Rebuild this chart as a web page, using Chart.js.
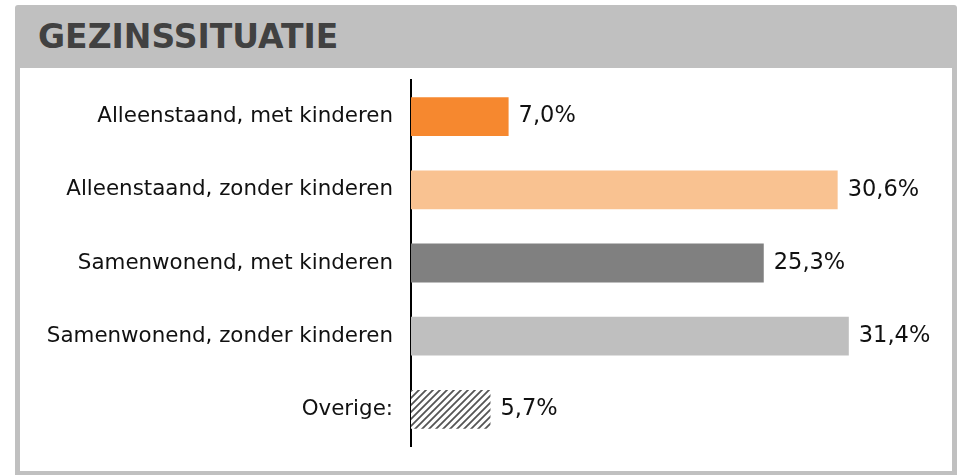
<!DOCTYPE html>
<html>
<head>
<meta charset="utf-8">
<script src="https://cdn.jsdelivr.net/npm/chart.js@4.4.1/dist/chart.umd.min.js"></script>
<style>
  body { margin: 0; background: #fff; width: 961px; height: 475px; overflow: hidden; }
  .card {
    position: absolute; left: 15px; top: 5px; width: 942px; height: 470px;
    background: #c0c0c0; border-radius: 3px 3px 0 0;
  }
  .card h1 {
    margin: 0; position: absolute; left: 23px; top: 0; height: 63px; line-height: 63px;
    font-family: 'DejaVu Sans', Verdana, sans-serif; font-weight: bold; font-size: 33px;
    color: #414141;
  }
  .content {
    position: absolute; left: 5px; top: 63px; width: 932px; height: 403px; background: #fff;
  }
</style>
</head>
<body>
<div class="card">
  <h1>GEZINSSITUATIE</h1>
  <div class="content"><canvas id="gezinChart" width="932" height="403"></canvas></div>
</div>
<script>
const categories = [
  'Alleenstaand, met kinderen',
  'Alleenstaand, zonder kinderen',
  'Samenwonend, met kinderen',
  'Samenwonend, zonder kinderen',
  'Overige:'
];
const percentages = [7.0, 30.6, 25.3, 31.4, 5.7];

// diagonal hatch for the "Overige" bar
function hatchPattern() {
  const size = 7;
  const c = document.createElement('canvas');
  c.width = size; c.height = size;
  const g = c.getContext('2d');
  g.fillStyle = '#fff';
  g.fillRect(0, 0, size, size);
  g.strokeStyle = '#555';
  g.lineWidth = 1.8;
  g.beginPath();
  g.moveTo(-1, size + 1); g.lineTo(size + 1, -1);
  g.moveTo(-1, 1); g.lineTo(1, -1);
  g.moveTo(size - 1, size + 1); g.lineTo(size + 1, size - 1);
  g.stroke();
  return g.createPattern(c, 'repeat');
}

const ctx = document.getElementById('gezinChart').getContext('2d');
const barColors = ['#f6882f', '#f9c291', '#808080', '#bfbfbf', hatchPattern()];

// write the percentage next to each bar
const valueLabels = {
  id: 'valueLabels',
  afterDatasetsDraw(chart) {
    const c = chart.ctx;
    const meta = chart.getDatasetMeta(0);
    c.save();
    c.font = '22.5px "DejaVu Sans", Verdana, sans-serif';
    c.fillStyle = '#111';
    c.textBaseline = 'middle';
    c.textAlign = 'left';
    meta.data.forEach((bar, i) => {
      const txt = percentages[i].toFixed(1).replace('.', ',') + '%';
      c.fillText(txt, bar.x + 10, bar.y);
    });
    c.restore();
  }
};

Chart.defaults.font.family = '"DejaVu Sans", Verdana, sans-serif';

new Chart(ctx, {
  type: 'bar',
  data: {
    labels: categories,
    datasets: [{
      data: percentages,
      backgroundColor: barColors,
      borderWidth: 0,
      barPercentage: 0.53,
      categoryPercentage: 1
    }]
  },
  options: {
    indexAxis: 'y',
    responsive: false,
    animation: false,
    layout: { padding: { top: 12, bottom: 25, left: 0, right: 53 } },
    plugins: { legend: { display: false }, tooltip: { enabled: false } },
    scales: {
      x: { display: false, min: 0, max: 35 },
      y: {
        afterFit: (scale) => {
          scale.width = 391;
          scale.paddingTop = 0;
          scale.paddingBottom = 0;
        },
        grid: { display: false, drawTicks: false },
        border: { display: true, color: '#000', width: 2 },
        ticks: { color: '#111', padding: 18, font: { size: 21.4 } }
      }
    }
  },
  plugins: [valueLabels]
});
</script>
</body>
</html>
